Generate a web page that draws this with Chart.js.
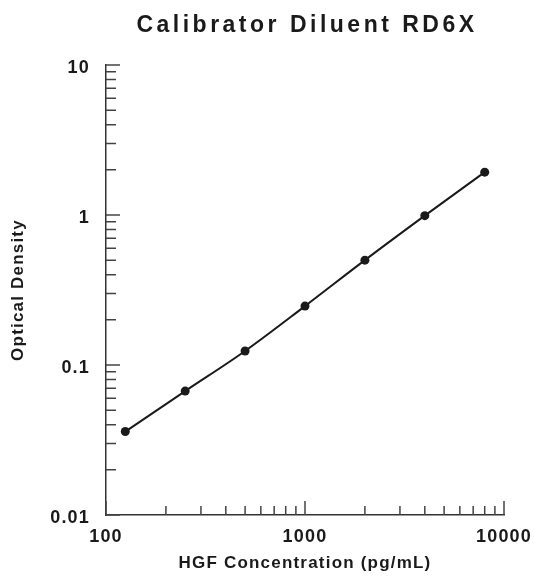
<!DOCTYPE html>
<html>
<head>
<meta charset="utf-8">
<title>Calibrator Diluent RD6X</title>
<script src="https://cdn.jsdelivr.net/npm/chart.js@4.4.1/dist/chart.umd.min.js"></script>
<style>
  html, body { margin: 0; padding: 0; background: #fff; }
  #wrap { width: 534px; height: 580px; }
</style>
</head>
<body>
<div id="wrap"><canvas id="chart" width="534" height="580"></canvas></div>
<script>
// --- Data ---
const chartTitle = 'Calibrator Diluent RD6X';
const xAxisTitle = 'HGF Concentration (pg/mL)';
const yAxisTitle = 'Optical Density';
const concentrations = [125, 250, 500, 1000, 2000, 4000, 8000];
const opticalDensity = [0.036, 0.067, 0.124, 0.247, 0.50, 0.99, 1.93];
const xTickValues = [100, 1000, 10000];
const yTickValues = [0.01, 0.1, 1, 10];

const ink = '#1a1a1a';
const fontFamily = '"Liberation Sans", Arial, Helvetica, sans-serif';
Chart.defaults.font.family = fontFamily;
Chart.defaults.color = ink;

// decade ticks (1..9 x 10^k) between min and max, flagged major on the decade
function logSteps(min, max) {
    const out = [];
    for (let e = Math.floor(Math.log10(min)); e <= Math.ceil(Math.log10(max)); e++) {
        for (let m = 1; m <= 9; m++) {
            const v = m * Math.pow(10, e);
            if (v >= min * 0.999 && v <= max * 1.001) out.push([v, m === 1]);
        }
    }
    return out;
}

// ticks point into the plot, like the original figure
const inwardTicks = {
    id: 'inwardTicks',
    beforeLayout(chart) { chart.ctx.letterSpacing = '1.2px'; },
    beforeDraw(chart) { chart.ctx.letterSpacing = '1.2px'; },
    afterDraw(chart) {
        const ctx = chart.ctx;
        const xs = chart.scales.x;
        const ys = chart.scales.y;
        ctx.save();
        ctx.strokeStyle = '#444';
        ctx.lineWidth = 1.5;
        ctx.beginPath();
        logSteps(xs.min, xs.max).forEach(([v, major]) => {
            const px = xs.getPixelForValue(v);
            ctx.moveTo(px, xs.top);
            ctx.lineTo(px, xs.top - (major ? 14 : 9));
        });
        logSteps(ys.min, ys.max).forEach(([v, major]) => {
            const py = ys.getPixelForValue(v);
            ctx.moveTo(ys.right, py);
            ctx.lineTo(ys.right + (major ? 14 : 10), py);
        });
        ctx.stroke();

        // title, spaced out like the reference
        ctx.letterSpacing = '3.5px';
        ctx.font = 'bold 23px ' + fontFamily;
        ctx.fillStyle = ink;
        ctx.textAlign = 'center';
        ctx.textBaseline = 'alphabetic';
        const area = chart.chartArea;
        ctx.fillText(chartTitle, (area.left + area.right) / 2 + 2, 32);
        ctx.restore();
    }
};

const tickFont = { size: 18, weight: 'bold' };
const titleFont = { size: 17, weight: 'bold' };

const chart = new Chart(document.getElementById('chart').getContext('2d'), {
    type: 'line',
    data: {
        datasets: [{
            data: concentrations.map((c, i) => ({ x: c, y: opticalDensity[i] })),
            borderColor: ink,
            borderWidth: 2,
            backgroundColor: ink,
            pointBackgroundColor: ink,
            pointBorderColor: ink,
            pointRadius: 4.5,
            pointBorderWidth: 0,
            cubicInterpolationMode: 'monotone',
            fill: false
        }]
    },
    options: {
        responsive: false,
        animation: false,
        layout: { padding: { top: 65, right: 30, bottom: 0, left: 0 } },
        plugins: {
            legend: { display: false },
            tooltip: { enabled: false }
        },
        scales: {
            x: {
                type: 'logarithmic',
                min: 100,
                max: 10000,
                afterBuildTicks: s => { s.ticks = xTickValues.map(v => ({ value: v })); },
                afterFit: s => { s.height = 65; s.paddingLeft = 0; s.paddingRight = 0; },
                grid: { display: false, drawTicks: false },
                border: { color: '#333', width: 1.5 },
                ticks: {
                    padding: 11,
                    color: ink,
                    font: tickFont,
                    autoSkip: false,
                    maxRotation: 0,
                    callback: v => String(v)
                },
                title: {
                    display: true,
                    text: xAxisTitle,
                    color: ink,
                    font: titleFont,
                    padding: { top: 0, bottom: 6 }
                }
            },
            y: {
                type: 'logarithmic',
                min: 0.01,
                max: 10,
                afterBuildTicks: s => { s.ticks = yTickValues.map(v => ({ value: v })); },
                afterFit: s => { s.width = 106; },
                grid: { display: false, drawTicks: false },
                border: { color: '#333', width: 1.5 },
                ticks: {
                    padding: 16,
                    labelOffset: 3,
                    color: ink,
                    font: tickFont,
                    autoSkip: false,
                    callback: v => String(v)
                },
                title: {
                    display: true,
                    text: yAxisTitle,
                    color: ink,
                    font: titleFont,
                    padding: { top: 8, bottom: 0 }
                }
            }
        }
    },
    plugins: [inwardTicks]
});
</script>
</body>
</html>
